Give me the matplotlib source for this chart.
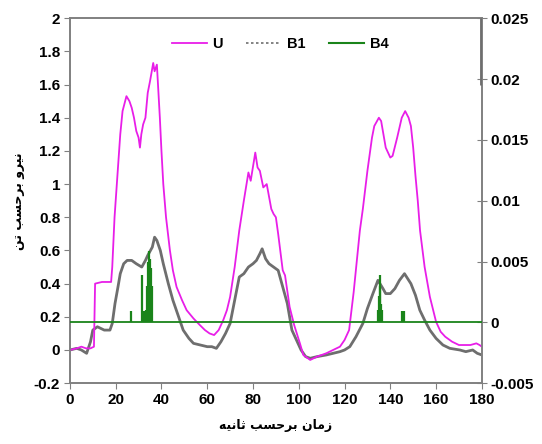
import matplotlib
matplotlib.use("Agg")
import matplotlib.pyplot as plt
from matplotlib.ticker import FuncFormatter

# ---------------- data ----------------
u_time = [0, 3, 5, 7, 9, 10.5, 11, 14, 18, 18.5, 19.5, 20.5, 22, 23, 24.7, 26, 27, 28, 29, 30,
          30.6, 31.2, 32, 33, 34, 35, 36.4, 37, 38, 39.3, 40, 40.8, 42, 43.7, 45, 46.6, 49, 51, 54, 56.8,
          59, 61, 63, 65, 67, 68.6, 70, 72, 74, 76, 78, 79, 81, 82, 83, 84.5, 86, 88, 89, 90,
          91, 93, 94, 96, 98, 100.5, 102, 105, 108, 112, 115, 118, 120, 122, 124, 126.7, 128, 130, 132, 133,
          135, 136, 137, 138, 140, 141, 143, 145, 146.5, 148, 149, 150, 151, 152, 153, 155, 157.3, 160, 162, 164,
          167, 170, 173, 175, 177.6, 179, 180]
u_force = [0.0, 0.01, 0.02, 0.01, 0.01, 0.02, 0.40, 0.41, 0.41, 0.50, 0.80, 1.00, 1.30, 1.44, 1.53, 1.50, 1.46, 1.40, 1.32, 1.28,
           1.22, 1.30, 1.36, 1.40, 1.55, 1.62, 1.73, 1.68, 1.72, 1.40, 1.20, 1.00, 0.80, 0.60, 0.48, 0.38, 0.30, 0.24, 0.19, 0.15,
           0.12, 0.10, 0.09, 0.12, 0.18, 0.24, 0.32, 0.50, 0.72, 0.90, 1.07, 1.02, 1.19, 1.10, 1.08, 0.98, 1.00, 0.85, 0.82, 0.80,
           0.70, 0.48, 0.45, 0.26, 0.15, 0.04, -0.03, -0.06, -0.04, -0.02, 0.00, 0.02, 0.06, 0.12, 0.35, 0.72, 0.85, 1.08, 1.28, 1.35,
           1.40, 1.38, 1.30, 1.22, 1.16, 1.17, 1.28, 1.40, 1.44, 1.40, 1.35, 1.22, 1.05, 0.90, 0.72, 0.50, 0.32, 0.17, 0.11, 0.08,
           0.05, 0.03, 0.03, 0.03, 0.04, 0.03, 0.02]

b1_time = [0, 3, 5, 7.3, 9, 10, 12, 15, 17.5, 18.5, 19.7, 21, 22, 23.5, 25, 27, 29, 31.4, 33, 34,
           36, 37, 38, 39.5, 40.8, 43, 45, 47.5, 49.5, 52, 54, 57, 60, 62, 64, 66, 68, 70, 72, 74,
           76, 78, 80, 81.5, 83, 84, 85.5, 87, 89, 91, 93, 95, 96, 97, 99, 101, 103, 105, 108, 112,
           115, 118, 120, 122.3, 125, 128, 130, 132.4, 134.6, 136.8, 138, 140, 142, 144, 146.2, 149, 151, 152.9, 155, 157.3,
           160, 163, 166, 170.4, 173, 176, 178, 180]
b1_force = [0.0, 0.01, 0.0, -0.02, 0.05, 0.12, 0.14, 0.12, 0.12, 0.16, 0.28, 0.38, 0.46, 0.52, 0.54, 0.54, 0.52, 0.50, 0.54, 0.57,
            0.62, 0.68, 0.66, 0.60, 0.52, 0.40, 0.30, 0.20, 0.12, 0.07, 0.04, 0.03, 0.02, 0.02, 0.01, 0.05, 0.10, 0.16, 0.30, 0.44,
            0.46, 0.50, 0.52, 0.54, 0.58, 0.61, 0.55, 0.52, 0.50, 0.48, 0.38, 0.28, 0.20, 0.12, 0.06, 0.00, -0.04, -0.05, -0.04, -0.03,
            -0.02, -0.01, 0.00, 0.02, 0.08, 0.16, 0.25, 0.34, 0.42, 0.37, 0.34, 0.34, 0.37, 0.42, 0.46, 0.40, 0.33, 0.24, 0.18, 0.12,
            0.07, 0.03, 0.01, 0.00, -0.01, 0.00, -0.02, -0.03]

b4_spike_time = [26.5, 31.3, 31.8, 32.3, 32.8, 33.3, 33.8, 34.3, 34.6, 35.0, 35.4, 35.8,
                 134.5, 134.9, 135.3, 135.7, 136.1, 136.5, 145.2, 146.0]
b4_spike_value = [0.0009, 0.0039, 0.0008, 0.0009, 0.0008, 0.0010, 0.0030, 0.0050, 0.0059, 0.0052, 0.0045, 0.0030,
                  0.0010, 0.0022, 0.0039, 0.0030, 0.0015, 0.0010, 0.0009, 0.0009]
b4_base = [0.0]

b1_edge_time = [180]
b1_edge_low = [0.0195]
b1_edge_high = [0.025]

x_ticks = [0, 20, 40, 60, 80, 100, 120, 140, 160, 180]
left_ticks = [-0.2, 0, 0.2, 0.4, 0.6, 0.8, 1, 1.2, 1.4, 1.6, 1.8, 2]
right_ticks = [-0.005, 0, 0.005, 0.01, 0.015, 0.02, 0.025]

# Persian labels written in visual (presentation-form) order
xlabel_text = "\uFEEA\uFEF4\uFEE7\uFE8E\uFE9B \uFE90\uFEB4\uFEA3\uFEAE\uFE91 \uFEE5\uFE8E\uFEE3\uFEAF"
ylabel_text = "\uFEE6\uFE97 \uFE90\uFEB4\uFEA3\uFEAE\uFE91 \uFEED\uFEAE\uFEF4\uFEE7"

# ---------------- style ----------------
plt.rcParams['font.family'] = ['Liberation Sans', 'DejaVu Sans']
U_COLOR = '#e81ee8'
B1_COLOR = '#6e6e6e'
B4_COLOR = '#1a841a'
SPINE = '#808080'

fig = plt.figure(figsize=(5.42, 4.44), dpi=100)
ax = fig.add_axes([0.129, 0.137, 0.760, 0.822])
ax2 = ax.twinx()

ax.plot(u_time, u_force, color=U_COLOR, lw=1.3, label='U', zorder=3)
ax.plot(b1_time, b1_force, color=B1_COLOR, lw=2.0, zorder=2)
ax.plot([], [], color=B1_COLOR, lw=1.2, ls=(0, (1.5, 1.5)), label='B1')

ax2.axhline(b4_base[0], color=B4_COLOR, lw=1.3, zorder=4)
ax2.vlines(b4_spike_time, b4_base[0], b4_spike_value, color=B4_COLOR, lw=1.6, zorder=4)
ax2.vlines(b1_edge_time, b1_edge_low, b1_edge_high, color=B1_COLOR, lw=3.5, zorder=4)
ax.plot([], [], color=B4_COLOR, lw=1.5, label='B4')

ax.set_xlim(0, 180)
ax.set_ylim(-0.2, 2)
ax2.set_ylim(-0.005, 0.025)
ax.set_xticks(x_ticks)
ax.set_yticks(left_ticks)
ax2.set_yticks(right_ticks)
ax.yaxis.set_major_formatter(FuncFormatter(lambda v, p: ('%g' % round(v, 3))))
ax2.yaxis.set_major_formatter(FuncFormatter(lambda v, p: ('%g' % round(v, 4))))

for a in (ax, ax2):
    for s in a.spines.values():
        s.set_color(SPINE)
        s.set_linewidth(1.2)
ax.tick_params(axis='both', direction='out', length=4, color=SPINE, labelsize=11, pad=3)
ax2.tick_params(axis='y', direction='inout', length=7, color=SPINE, labelsize=11, pad=3)
for lbl in ax.get_xticklabels() + ax.get_yticklabels() + ax2.get_yticklabels():
    lbl.set_fontweight('bold')

ax.set_xlabel(xlabel_text, family=['DejaVu Sans'], fontsize=9, fontweight='bold', labelpad=9)
ax.set_ylabel(ylabel_text, family=['DejaVu Sans'], fontsize=9, fontweight='bold', labelpad=6)

leg = ax.legend(loc='upper center', bbox_to_anchor=(0.51, 0.985), ncol=3, frameon=False,
                handlelength=2.4, columnspacing=1.6, handletextpad=0.4,
                prop={'weight': 'bold', 'size': 10.5})

fig.savefig('out.png', dpi=100)
